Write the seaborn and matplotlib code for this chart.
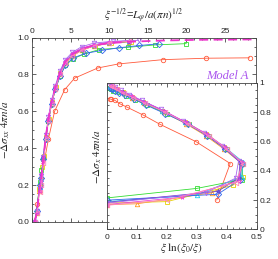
import matplotlib
matplotlib.use("Agg")
import matplotlib.pyplot as plt
from matplotlib.ticker import MultipleLocator
import numpy as np
import seaborn as sns

nan = np.nan

# each series: colour, marker, y values, main x (xi^-1/2), inset x (xi ln(xi0/xi))
red_y = [0.0, 0.1, 0.2, 0.45, 0.60, 0.717, 0.78, 0.835, 0.857, 0.88, 0.888, 0.89]
red_main = [0.3, 0.65, 1.0, 2.1, 2.9, 4.2, 5.5, 8.5, 11.2, 16.9, 22.6, 28.2]
red_inset = [nan, nan, 0.367, 0.412, 0.297, 0.178, 0.122, 0.067, 0.044, 0.028, 0.015, 0.011]

orange_y = [0.0, 0.05, 0.17, 0.175, 0.25, 0.35, 0.45, 0.55, 0.64, 0.72, 0.80, 0.86, 0.90, 0.93, 0.955, 0.97, 0.978]
orange_main = [0.35, 0.6, 0.9, 0.95, 1.2, 1.45, 1.75, 2.1, 2.5, 3.0, 3.6, 4.3, 5.2, 6.4, 8.0, 10.0, 12.5]
orange_inset = [nan, nan, 0.0, 0.10, 0.35, 0.44, 0.45, 0.39, 0.33, 0.265, 0.19, 0.125, 0.085, 0.056, 0.034, 0.021, 0.013]

yellow_y = [0.0, 0.05, 0.18, 0.19, 0.30, 0.36, 0.46, 0.56, 0.65, 0.73, 0.81, 0.87, 0.905, 0.935, 0.955, 0.97, 0.978]
yellow_main = [0.3, 0.6, 0.9, 1.0, 1.3, 1.5, 1.8, 2.15, 2.55, 3.05, 3.65, 4.35, 5.25, 6.5, 8.1, 10.2, 12.8]
yellow_inset = [nan, nan, 0.0, 0.20, 0.42, 0.455, 0.445, 0.39, 0.33, 0.26, 0.185, 0.122, 0.083, 0.053, 0.034, 0.021, 0.013]

green_y = [0.0, 0.06, 0.215, 0.28, 0.34, 0.45, 0.55, 0.64, 0.72, 0.79, 0.85, 0.885, 0.91, 0.935, 0.947, 0.96, 0.967]
green_main = [0.3, 0.6, 0.95, 1.2, 1.45, 1.75, 2.1, 2.5, 3.0, 3.6, 4.3, 5.3, 6.7, 8.7, 12.4, 15.9, 20.0]
green_inset = [nan, nan, 0.0, 0.30, 0.45, 0.455, 0.40, 0.34, 0.275, 0.20, 0.135, 0.095, 0.065, 0.04, 0.022, 0.014, 0.009]

cyan_y = [0.0, 0.06, 0.19, 0.235, 0.36, 0.46, 0.56, 0.65, 0.73, 0.81, 0.87, 0.91, 0.94, 0.96, 0.975, 0.982]
cyan_main = [0.3, 0.6, 0.95, 1.2, 1.45, 1.75, 2.1, 2.5, 3.0, 3.6, 4.3, 5.2, 6.4, 8.0, 10.0, 12.5]
cyan_inset = [nan, nan, 0.0, 0.30, 0.45, 0.455, 0.395, 0.33, 0.26, 0.185, 0.12, 0.08, 0.05, 0.032, 0.019, 0.012]

blue_y = [0.0, 0.06, 0.20, 0.24, 0.34, 0.45, 0.55, 0.64, 0.72, 0.79, 0.85, 0.89, 0.915, 0.93, 0.945, 0.957, 0.966]
blue_main = [0.3, 0.6, 0.95, 1.2, 1.45, 1.75, 2.1, 2.5, 3.0, 3.6, 4.3, 5.3, 7.0, 9.0, 11.3, 13.9, 16.4]
blue_inset = [nan, nan, 0.0, 0.37, 0.445, 0.45, 0.395, 0.335, 0.27, 0.195, 0.13, 0.09, 0.06, 0.04, 0.026, 0.016, 0.011]

violet_y = [0.0, 0.05, 0.185, 0.26, 0.35, 0.46, 0.56, 0.65, 0.73, 0.81, 0.87, 0.905, 0.935, 0.955, 0.97, 0.978]
violet_main = [0.35, 0.6, 0.95, 1.2, 1.45, 1.75, 2.1, 2.5, 3.0, 3.6, 4.3, 5.2, 6.4, 8.0, 10.0, 12.5]
violet_inset = [nan, nan, 0.0, 0.37, 0.44, 0.445, 0.39, 0.33, 0.26, 0.19, 0.125, 0.085, 0.055, 0.035, 0.021, 0.013]

purple_y = [0.0, 0.06, 0.18, 0.25, 0.35, 0.47, 0.57, 0.66, 0.74, 0.82, 0.88, 0.92, 0.95, 0.97, 0.98, 0.985]
purple_main = [0.3, 0.6, 0.95, 1.2, 1.45, 1.75, 2.1, 2.5, 3.0, 3.6, 4.3, 5.2, 6.4, 8.0, 10.5, 13.8]
purple_inset = [nan, nan, 0.0, 0.33, 0.43, 0.44, 0.385, 0.325, 0.255, 0.18, 0.118, 0.075, 0.046, 0.028, 0.016, 0.01]

magenta_y = [0.0, 0.05, 0.17, 0.22, 0.33, 0.46, 0.56, 0.65, 0.73, 0.81, 0.87, 0.91, 0.94, 0.96, 0.975, 0.982]
magenta_main = [0.35, 0.6, 0.95, 1.2, 1.45, 1.75, 2.1, 2.5, 3.0, 3.6, 4.3, 5.2, 6.4, 8.0, 10.0, 12.5]
magenta_inset = [nan, nan, 0.0, 0.25, 0.44, 0.45, 0.395, 0.335, 0.265, 0.19, 0.124, 0.083, 0.052, 0.033, 0.02, 0.013]

pink_y = [0.0, 0.05, 0.165, 0.20, 0.32, 0.45, 0.55, 0.64, 0.72, 0.80, 0.86, 0.90, 0.93, 0.955, 0.97, 0.98]
pink_main = [0.3, 0.6, 0.95, 1.2, 1.45, 1.75, 2.1, 2.5, 3.0, 3.6, 4.3, 5.2, 6.4, 8.0, 10.0, 12.5]
pink_inset = [nan, nan, 0.0, 0.20, 0.43, 0.455, 0.40, 0.34, 0.27, 0.195, 0.128, 0.087, 0.056, 0.034, 0.021, 0.013]

# dashed theory curve (main panel only)
theory_x = [0.3, 0.6, 0.95, 1.2, 1.45, 1.75, 2.1, 2.5, 3.0, 3.6, 4.3, 5.2, 6.4, 8.0, 10.0, 13.0, 17.0, 22.0, 29.0]
theory_y = [0.0, 0.05, 0.18, 0.25, 0.35, 0.46, 0.56, 0.65, 0.73, 0.81, 0.87, 0.91, 0.94, 0.958, 0.97, 0.978, 0.984, 0.988, 0.99]

series = [
    ("#ff5a3c", "o", red_y, red_main, red_inset),
    ("#ff9922", "^", orange_y, orange_main, orange_inset),
    ("#e6d200", "s", yellow_y, yellow_main, yellow_inset),
    ("#33dd33", "s", green_y, green_main, green_inset),
    ("#22ccee", "^", cyan_y, cyan_main, cyan_inset),
    ("#3366ee", "D", blue_y, blue_main, blue_inset),
    ("#6a44cc", "*", violet_y, violet_main, violet_inset),
    ("#aa66ee", "v", purple_y, purple_main, purple_inset),
    ("#ee44dd", "*", magenta_y, magenta_main, magenta_inset),
    ("#ff88bb", "<", pink_y, pink_main, pink_inset),
]

sns.set_style("ticks")
plt.rcParams["font.family"] = ["Liberation Sans", "DejaVu Sans"]
plt.rcParams["mathtext.fontset"] = "stix"
plt.rcParams["xtick.direction"] = "in"
plt.rcParams["ytick.direction"] = "in"

fig = plt.figure(figsize=(2.78, 2.59), dpi=100)
ax = fig.add_axes([0.116, 0.143, 0.804, 0.712])

style = dict(lw=0.6, markersize=3.2, markerfacecolor="none", markeredgewidth=0.6)
for c, m, y, xm, xi in series:
    sns.lineplot(x=xm, y=y, ax=ax, color=c, marker=m, markeredgecolor=c,
                 sort=False, estimator=None, **style)
sns.lineplot(x=theory_x, y=theory_y, ax=ax, color="#ee33cc", lw=1.3,
             linestyle=(0, (5, 3)), sort=False, estimator=None)

ax.set_xlim(0, 29)
ax.set_ylim(0, 1.0)
ax.xaxis.tick_top()
ax.xaxis.set_label_position("top")
ax.xaxis.set_major_locator(MultipleLocator(5))
ax.xaxis.set_minor_locator(MultipleLocator(1))
ax.yaxis.set_major_locator(MultipleLocator(0.2))
ax.yaxis.set_minor_locator(MultipleLocator(0.05))
ax.yaxis.set_major_formatter(matplotlib.ticker.FormatStrFormatter("%.1f"))
ax.tick_params(which="both", top=True, bottom=True, left=True, right=True,
               labelsize=6, width=0.5, pad=2)
ax.tick_params(which="major", length=3)
ax.tick_params(which="minor", length=1.5)
for s in ax.spines.values():
    s.set_linewidth(0.6)
    s.set_color("#444444")
ax.set_xlabel(r"$\xi^{-1/2}$=$L_\varphi/a(\pi n)^{1/2}$", fontsize=8, labelpad=6)
ax.set_ylabel(r"$-\Delta\sigma_{xx}\ 4\pi n/a$", fontsize=8, labelpad=4)
ax.text(0.875, 0.79, "Model A", transform=ax.transAxes, ha="center", va="center",
        fontsize=9, color="#aa55ee", style="italic", family="Liberation Serif")

# inset
axi = fig.add_axes([0.384, 0.114, 0.539, 0.566])
axi.patch.set_facecolor("white")
for c, m, y, xm, xi in series:
    sns.lineplot(x=xi, y=y, ax=axi, color=c, marker=m, markeredgecolor=c,
                 sort=False, estimator=None, **style)
axi.set_xlim(0, 0.5)
axi.set_ylim(0, 1.0)
axi.xaxis.set_major_locator(MultipleLocator(0.1))
axi.xaxis.set_minor_locator(MultipleLocator(0.02))
axi.yaxis.set_major_locator(MultipleLocator(0.2))
axi.yaxis.set_minor_locator(MultipleLocator(0.05))
axi.yaxis.set_major_formatter(matplotlib.ticker.FuncFormatter(lambda v, p: f"{v:g}"))
axi.xaxis.set_major_formatter(matplotlib.ticker.FuncFormatter(lambda v, p: f"{v:g}"))
axi.yaxis.tick_right()
axi.tick_params(which="both", top=True, bottom=True, left=True, right=True,
                labelsize=6, width=0.5)
axi.tick_params(axis="x", pad=3.5)
axi.tick_params(axis="y", pad=2)
axi.tick_params(which="major", length=3)
axi.tick_params(which="minor", length=1.5)
for s in axi.spines.values():
    s.set_linewidth(0.6)
    s.set_color("#444444")
axi.yaxis.set_label_position("left")
axi.set_ylabel(r"$-\Delta\sigma_{x}\ 4\pi n/a$", fontsize=8, labelpad=2)
axi.set_xlabel(r"$\xi\ \ln(\xi_0/\xi)$", fontsize=8, labelpad=0)

fig.savefig("out.png", dpi=100)
